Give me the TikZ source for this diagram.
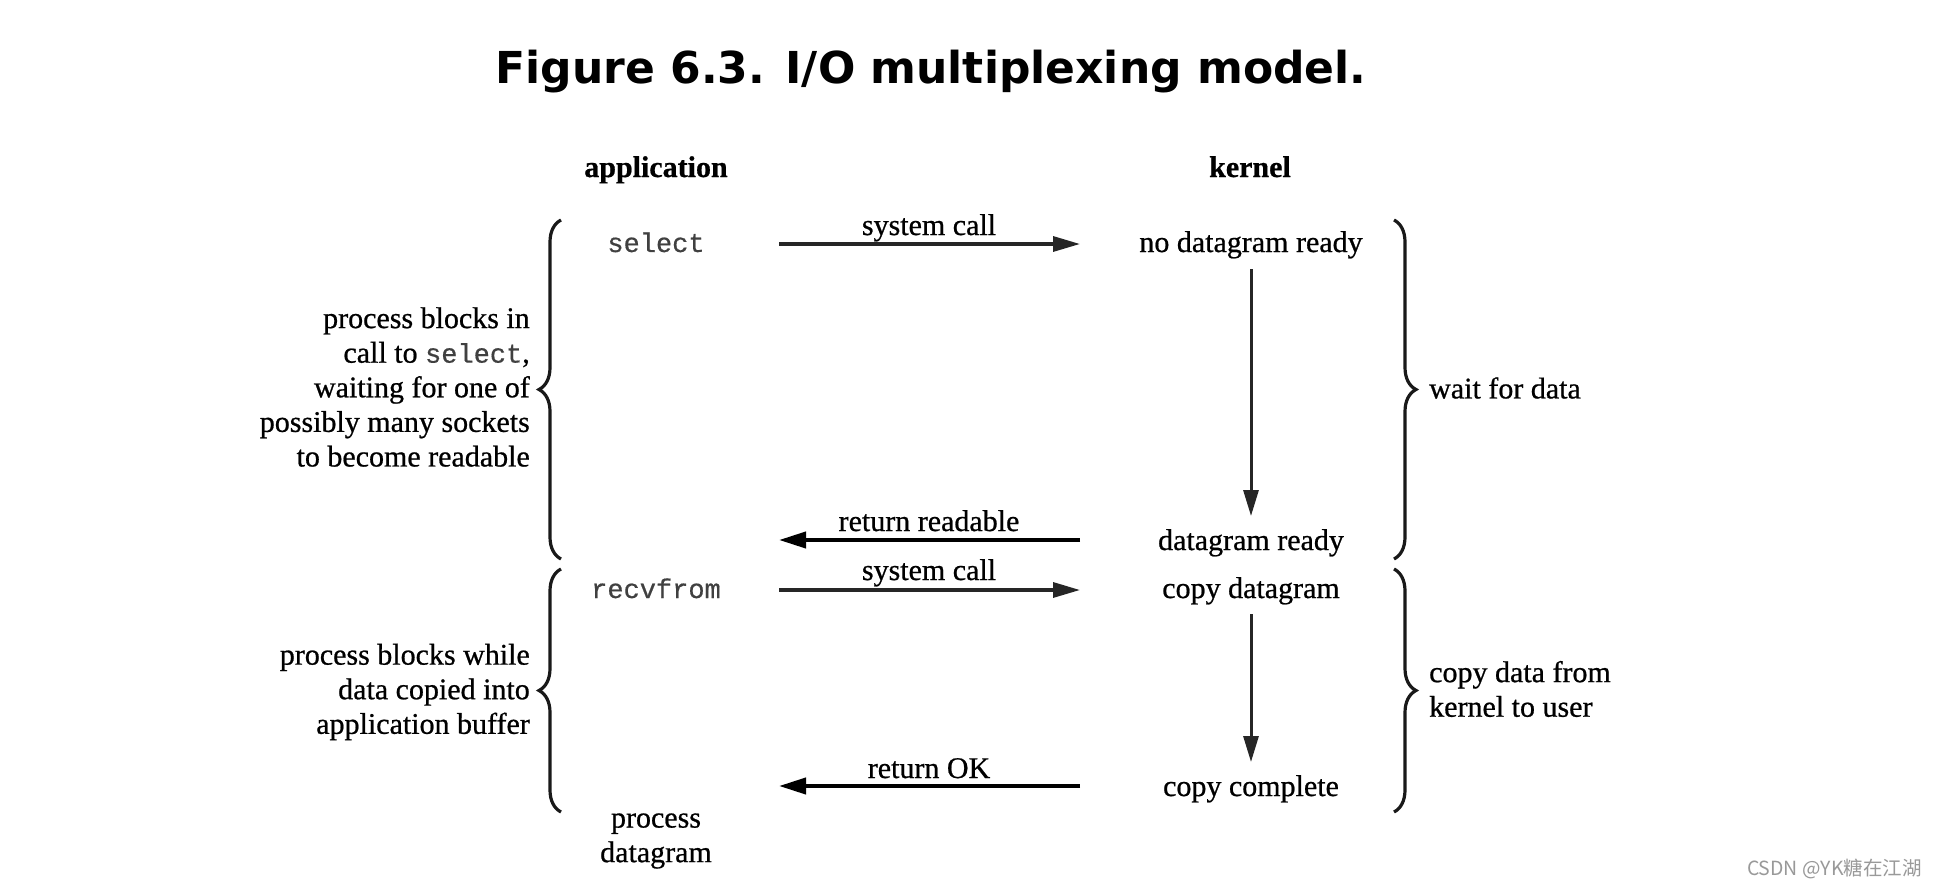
\documentclass[tikz,border=0pt]{standalone}
\usepackage{fontspec}
\setmainfont{Liberation Serif}[FakeBold=0.7]
\setmonofont{Liberation Mono}[FakeBold=0.5]
\newfontfamily\titlefont{DejaVu Sans}
\newfontfamily\cjk{Noto Sans CJK SC}
\usetikzlibrary{arrows.meta,decorations.pathreplacing,calc}
\begin{document}
\begin{tikzpicture}[x=1pt,y=-1pt,
  txt/.style={font=\fontsize{30}{34.6}\selectfont, inner sep=0pt, anchor=base, text=black},
  multi/.style={font=\fontsize{30}{34.6}\selectfont, inner sep=0pt, text=black},
  mono/.style={font=\fontsize{27}{32}\selectfont\ttfamily, inner sep=0pt, anchor=base, text=black!75},
  head/.style={font=\fontsize{30}{34}\selectfont\bfseries, inner sep=0pt, anchor=base},
  callarr/.style={-{Triangle[length=27pt,width=15pt]}, line width=3.3pt, draw=black!85},
  retarr/.style={-{Triangle[length=27pt,width=16pt]}, line width=4pt, draw=black},
  downarr/.style={-{Triangle[length=26pt,width=15pt]}, line width=3pt, draw=black!85},
  brc/.style={decorate, decoration={brace, amplitude=22pt}, line width=3.2pt, draw=black!90}]
\useasboundingbox[fill=white] (0,0) rectangle (1936,886);

% title
\node[font=\titlefont\bfseries\fontsize{44}{50}\selectfont, inner sep=0pt, anchor=base] (title) at (931,83) {Figure 6.3. I/O multiplexing model.};

% column heads
\node[head] (app) at (656,177) {application};
\node[head] (ker) at (1250,177) {kernel};

% application column
\node[mono] (sel) at (656,252) {select};
\node[mono] (rcv) at (656,598) {recvfrom};
\node[multi, align=center] (proc) at (656,841) {process\\datagram};

% kernel column
\node[txt] (nodr) at (1251,252) {no datagram ready};
\node[txt] (dr) at (1251,550) {datagram ready};
\node[txt] (cd) at (1251,598) {copy datagram};
\node[txt] (cc) at (1251,796) {copy complete};

% arrows
\draw[callarr] ($(sel.base)+(123,-8)$) -- ($(nodr.base)+(-171,-8)$);
\draw[downarr] ($(nodr.base)+(0,17)$) -- ($(dr.base)+(0,-34)$);
\draw[retarr] ($(dr.base)+(-171,-10)$) -- ($(sel.base |- dr.base)+(123,-10)$);
\draw[callarr] ($(rcv.base)+(123,-8)$) -- ($(cd.base)+(-171,-8)$);
\draw[downarr] ($(cd.base)+(0,16)$) -- ($(cc.base)+(0,-34)$);
\draw[retarr] ($(cc.base)+(-171,-10)$) -- ($(sel.base |- cc.base)+(123,-10)$);

% arrow labels
\node[txt] (l1) at (929,235) {system call};
\node[txt] (l2) at (929,531) {return readable};
\node[txt] (l3) at (929,580) {system call};
\node[txt] (l4) at (929,778) {return OK};

% braces
\draw[brc] (561,559) -- (561,220);
\draw[brc] (561,812) -- (561,569);
\draw[brc] (1394,220) -- (1394,559);
\draw[brc] (1394,569) -- (1394,812);

% side texts
\node[multi, align=right, anchor=east] (lt1) at (530,387) {process blocks in\\call to {\fontsize{27}{32}\selectfont\ttfamily\color{black!75}select},\\waiting for one of\\possibly many sockets\\to become readable};
\node[multi, align=right, anchor=east] (lt2) at (530,692) {process blocks while\\data copied into\\application buffer};
\node[multi, align=left, anchor=west] (rt1) at (1429,388) {wait for data};
\node[multi, align=left, anchor=west] (rt2) at (1429,689) {copy data from\\kernel to user};

% watermark
\node[font=\cjk\fontsize{19.5}{22}\selectfont, text=black!40, inner sep=0pt, anchor=base east] (wm) at (1922,875) {CSDN @YK糖在江湖};
\end{tikzpicture}
\end{document}
